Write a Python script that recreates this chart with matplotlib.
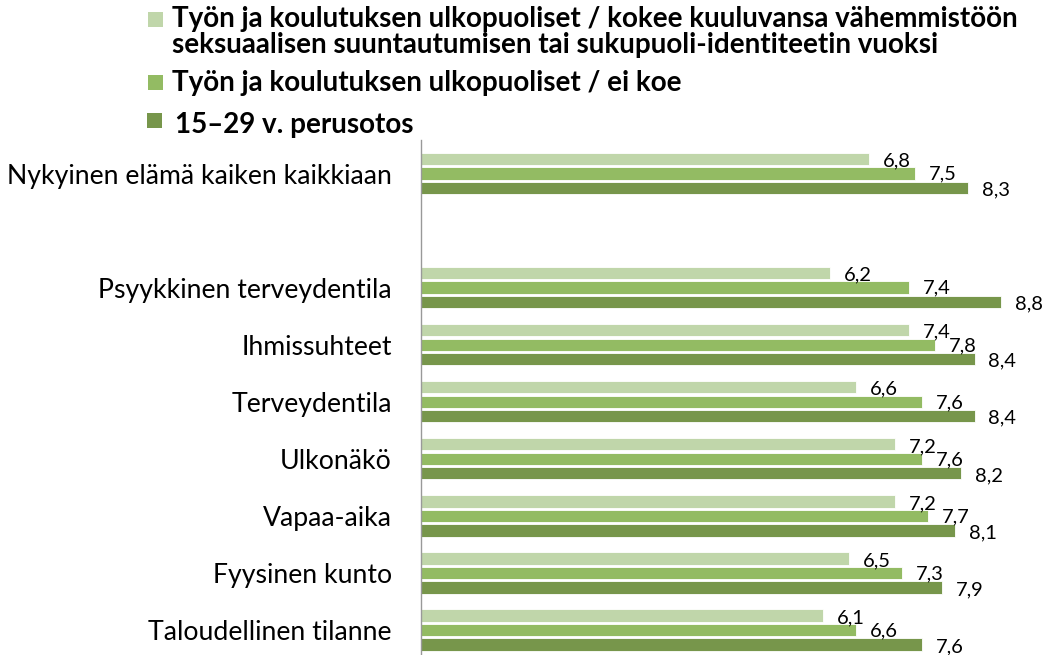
import matplotlib
matplotlib.use("Agg")
import matplotlib.pyplot as plt
from matplotlib.patches import Rectangle
import numpy as np

categories = ["Nykyinen elämä kaiken kaikkiaan", "", "Psyykkinen terveydentila", "Ihmissuhteet",
              "Terveydentila", "Ulkonäkö", "Vapaa-aika", "Fyysinen kunto", "Taloudellinen tilanne"]
s_minority = [6.8, None, 6.2, 7.4, 6.6, 7.2, 7.2, 6.5, 6.1]
s_notminority = [7.5, None, 7.4, 7.8, 7.6, 7.6, 7.7, 7.3, 6.6]
s_base = [8.3, None, 8.8, 8.4, 8.4, 8.2, 8.1, 7.9, 7.6]
series_names = ["Työn ja koulutuksen ulkopuoliset / kokee kuuluvansa vähemmistöön\nseksuaalisen suuntautumisen tai sukupuoli-identiteetin vuoksi",
                "Työn ja koulutuksen ulkopuoliset / ei koe",
                "15–29 v. perusotos"]
colors = ["#C0D6AA", "#93BB63", "#77964B"]

W, H = 1054, 655
fig = plt.figure(figsize=(W/100, H/100), dpi=100)
plt.rcParams['font.family'] = ['Lato', 'DejaVu Sans']

ax_left, ax_top = 421, 140
ax = fig.add_axes([ax_left/W, 0, (W-ax_left)/W, (H-ax_top)/H])
n = len(categories)
y = np.arange(n)
pitch = 0.254
hgt = 0.215
label_dy = [-1.5, -0.5, -1.5]  # points offsets (downward)
for k, (vals, c) in enumerate(zip([s_minority, s_notminority, s_base], colors)):
    for i, v in enumerate(vals):
        if v is None:
            continue
        yy = i + (k - 1) * pitch
        ax.barh(yy, v, height=hgt, color=c, edgecolor='white', linewidth=0.6)
        ax.annotate(f"{v:.1f}".replace('.', ','), (v, yy), xytext=(10.0, label_dy[k]),
                    textcoords='offset points', ha='left', va='center', fontsize=14.5, color='black')

slot = 57.06
ax.set_xlim(0, (W-ax_left)/65.9)
ax.set_ylim(8 + (H - 630) / slot, -(173.5 - ax_top) / slot)
ax.set_yticks(y)
ax.set_yticklabels(categories, fontsize=19.2)
ax.tick_params(axis='y', length=0, pad=21)
ax.set_xticks([])
for sp in ['top', 'right', 'bottom']:
    ax.spines[sp].set_visible(False)
ax.spines['left'].set_color('#999999')
ax.spines['left'].set_linewidth(1)

# legend
def fy(py):
    return 1 - py / H
sq = 15
marks = [(148, 12), (148, 75), (147, 113)]
for (mx, my), c in zip(marks, colors):
    fig.add_artist(Rectangle((mx/W, fy(my+sq)), sq/W, sq/H, transform=fig.transFigure,
                             color=c, lw=0))
lines = series_names[0].split("\n")
lfs = 20
fig.text(172/W, fy(19), lines[0], fontsize=lfs, fontweight='bold', va='center', ha='left')
fig.text(172/W, fy(45), lines[1], fontsize=lfs, fontweight='bold', va='center', ha='left')
fig.text(172/W, fy(83), series_names[1], fontsize=lfs, fontweight='bold', va='center', ha='left')
fig.text(175/W, fy(125), series_names[2], fontsize=lfs, fontweight='bold', va='center', ha='left')

fig.savefig("out.png", dpi=100)
